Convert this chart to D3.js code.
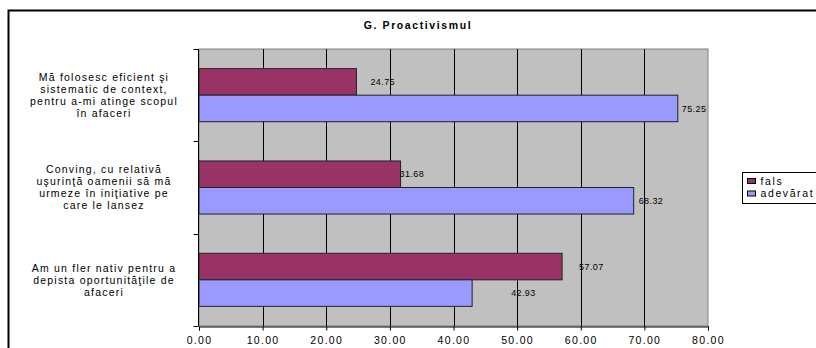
<!DOCTYPE html>
<html>
<head>
<meta charset="utf-8">
<script src="https://cdn.jsdelivr.net/npm/d3@7"></script>
<style>
  body { margin: 0; background: #fff; }
  text { font-family: "Liberation Sans", Arial, sans-serif; }
</style>
</head>
<body>
<svg class="chart"></svg>
<script>
// chart data
const title = "G. Proactivismul"
const categories = [
  ["Mă folosesc eficient şi", "sistematic de context,", "pentru a-mi atinge scopul", "în afaceri"],
  ["Conving, cu relativă", "uşurinţă oamenii să mă", "urmeze în iniţiative pe", "care le lansez"],
  ["Am un fler nativ pentru a", "depista oportunităţile de", "afaceri"]
]
const seriesNames = ["fals", "adevărat"]
const fals = [24.75, 31.68, 57.07]
const adevarat = [75.25, 68.32, 42.93]
const xTicks = [0, 10, 20, 30, 40, 50, 60, 70, 80]
// little sideways nudges of the value labels, like in the original
const labelNudge = [[14, -1, 17], [4, 5, 39]]

const W = 816, H = 348
const colors = ["#993366", "#9999FF"]
const plot = {left: 199, right: 708, top: 49, bottom: 326}

let svg = d3.select(".chart").attr("width", W).attr("height", H)

// outer frame, right and bottom run off the picture
svg.append("rect")
  .attr("x", 8.5).attr("y", 10.5)
  .attr("width", W + 10).attr("height", H + 10)
  .attr("fill", "none").attr("stroke", "#000").attr("stroke-width", 2)

svg.append("text")
  .attr("x", 418).attr("y", 29)
  .attr("text-anchor", "middle")
  .style("font-size", "10.5px").style("font-weight", "bold").style("letter-spacing", "1.6px")
  .text(title)

let x = d3.scaleLinear().domain([0, 80]).range([plot.left, plot.right])
let y = d3.scaleBand().domain(d3.range(categories.length)).range([plot.top, plot.bottom])
let ySub = d3.scaleBand().domain([0, 1]).range([0, y.bandwidth()]).paddingInner(0).paddingOuter(0.74)

// grey plot area
svg.append("rect")
  .attr("x", plot.left).attr("y", plot.top)
  .attr("width", plot.right - plot.left).attr("height", plot.bottom - plot.top)
  .attr("fill", "#C0C0C0").attr("stroke", "#808080").attr("stroke-width", 1)

// vertical gridlines
svg.selectAll(".grid").data(xTicks.slice(1, -1)).enter().append("line")
  .attr("x1", d => Math.round(x(d)) + 0.5).attr("x2", d => Math.round(x(d)) + 0.5)
  .attr("y1", plot.top).attr("y2", plot.bottom)
  .attr("stroke", "#000").attr("stroke-width", 1)

// bars
const series = [fals, adevarat]
series.forEach(function(vals, s){
  let g = svg.append("g")
  g.selectAll("rect").data(vals).enter().append("rect")
    .attr("x", x(0))
    .attr("y", (d, i) => y(i) + ySub(s))
    .attr("width", d => x(d) - x(0))
    .attr("height", ySub.bandwidth())
    .attr("fill", colors[s]).attr("stroke", "#222").attr("stroke-width", 1)
  g.selectAll("text").data(vals).enter().append("text")
    .attr("x", (d, i) => x(d) + labelNudge[s][i])
    .attr("y", (d, i) => y(i) + ySub(s) + ySub.bandwidth() / 2)
    .attr("dy", "0.35em")
    .style("font-size", "9px").style("letter-spacing", "0.4px")
    .text(d => d.toFixed(2))
})

// x axis
let xAxis = svg.append("g")
  .attr("transform", "translate(0," + (plot.bottom + 0.5) + ")")
  .call(d3.axisBottom(x).tickValues(xTicks).tickSize(4).tickPadding(6).tickFormat(d3.format(".2f")))
xAxis.select(".domain").attr("stroke", "#000")
xAxis.selectAll("text").style("font-size", "10.5px").style("letter-spacing", "1.3px")
  .style("font-family", "Liberation Sans, Arial, sans-serif").attr("fill", "#000")

// y axis: ticks on category boundaries
let yAxisG = svg.append("g").attr("transform", "translate(" + (plot.left - 0.5) + ",0)")
yAxisG.append("line").attr("x1", 0).attr("x2", 0).attr("y1", plot.top).attr("y2", plot.bottom).attr("stroke", "#000")
let bounds = d3.range(categories.length + 1).map(i => i < categories.length ? y(i) : plot.bottom)
yAxisG.selectAll(".tk").data(bounds).enter().append("line")
  .attr("x1", -5).attr("x2", 0)
  .attr("y1", d => Math.round(d) + 0.5).attr("y2", d => Math.round(d) + 0.5)
  .attr("stroke", "#000")

// category labels
const lineH = 12
categories.forEach(function(lines, i){
  let cy = y(i) + y.bandwidth() / 2
  let t = svg.append("text").attr("text-anchor", "middle")
    .style("font-size", "10.5px").style("letter-spacing", "1.2px")
  lines.forEach(function(l, k){
    t.append("tspan")
      .attr("x", 104)
      .attr("y", cy + (k - (lines.length - 1) / 2) * lineH)
      .attr("dy", "0.35em")
      .text(l)
  })
})

// legend, runs off the right edge like the original
let leg = svg.append("g").attr("transform", "translate(742.5,172.5)")
leg.append("rect").attr("width", 90).attr("height", 31).attr("fill", "#fff").attr("stroke", "#000")
seriesNames.forEach(function(n, i){
  leg.append("rect").attr("x", 5).attr("y", 6 + i * 12.5).attr("width", 8).attr("height", 5)
    .attr("fill", colors[i]).attr("stroke", "#000").attr("stroke-width", 1)
  leg.append("text").attr("x", 18).attr("y", 8.5 + i * 12.5).attr("dy", "0.35em")
    .style("font-size", "10.5px").style("letter-spacing", "1.6px")
    .text(n)
})
</script>
</body>
</html>
